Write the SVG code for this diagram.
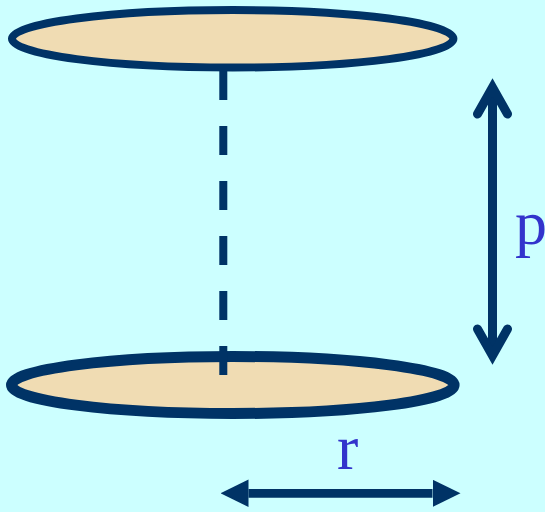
<svg xmlns="http://www.w3.org/2000/svg" width="545" height="512" viewBox="0 0 545 512">
  <style>
    .disk { fill: #F0DCB3; stroke: #003366; }
    .dash { fill: none; stroke: #003366; stroke-width: 8; stroke-dasharray: 29 26; }
    .shaft { fill: none; stroke: #003366; stroke-width: 9; }
    .chev { fill: none; stroke: #003366; stroke-width: 9; stroke-linecap: round; stroke-linejoin: miter; }
    .lbl { font-family: "Liberation Serif", "Times New Roman", serif; font-size: 64px; fill: #3333CC; }
  </style>
  <defs>
    <marker id="tri" markerUnits="userSpaceOnUse" markerWidth="28" markerHeight="28" refX="0" refY="13.7" orient="auto-start-reverse">
      <path d="M0,0 L28,13.7 L0,27.4 z" fill="#003366"/>
    </marker>
  </defs>
  <rect width="545" height="512" fill="#CCFFFF"/>
  <g id="top-disk">
    <ellipse class="disk" cx="232.7" cy="38.8" rx="220.7" ry="28.7" stroke-width="8"/>
  </g>
  <g id="bottom-disk">
    <ellipse class="disk" cx="232.8" cy="385" rx="221.3" ry="28.5" stroke-width="11"/>
  </g>
  <g id="connectors">
    <line class="dash" x1="223.3" y1="71" x2="223.3" y2="375"/>
    <line class="shaft" x1="492.5" y1="88" x2="492.5" y2="356"/>
    <polyline class="chev" points="477.5,114 492.5,87.5 507.5,114"/>
    <polyline class="chev" points="477.5,329 492.5,355.5 507.5,329"/>
    <line x1="248.5" y1="493.3" x2="432.5" y2="493.3" stroke="#003366" stroke-width="8.7" marker-start="url(#tri)" marker-end="url(#tri)"/>
  </g>
  <g id="label-p">
    <text class="lbl" x="515" y="244">p</text>
  </g>
  <g id="label-r">
    <text class="lbl" x="337" y="469">r</text>
  </g>
</svg>
